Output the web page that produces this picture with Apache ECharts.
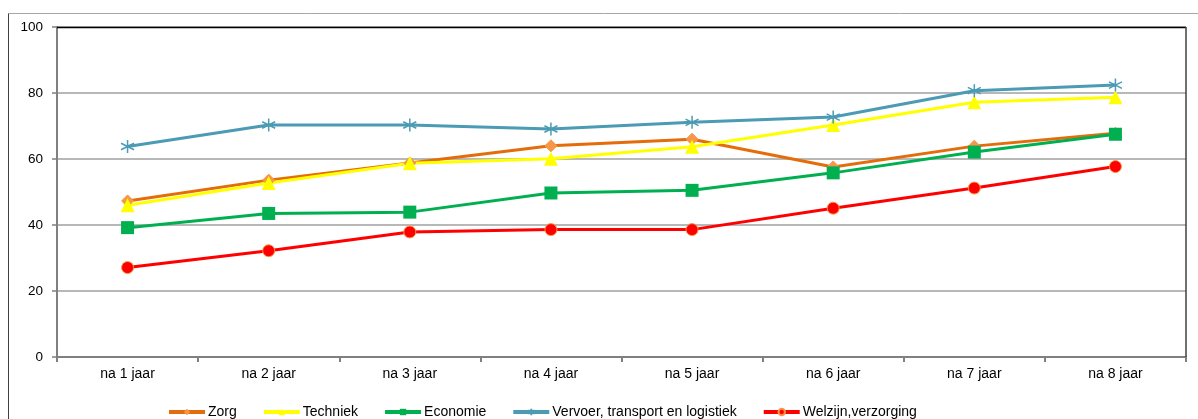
<!DOCTYPE html>
<html>
<head>
<meta charset="utf-8">
<script src="https://cdn.jsdelivr.net/npm/echarts@6/dist/echarts.min.js"></script>
<style>
html,body{margin:0;padding:0;background:#fff;}
#chart{width:1198px;height:419px;}
</style>
</head>
<body>
<div id="chart"></div>
<script>
const categories = ['na 1 jaar','na 2 jaar','na 3 jaar','na 4 jaar','na 5 jaar','na 6 jaar','na 7 jaar','na 8 jaar'];
const zorg      = [47.3, 53.6, 58.8, 64.0, 66.0, 57.6, 63.9, 67.8];
const techniek  = [46.0, 52.7, 58.7, 60.1, 63.7, 70.3, 77.2, 78.7];
const economie  = [39.2, 43.5, 43.9, 49.7, 50.5, 55.8, 62.1, 67.5];
const vervoer   = [63.8, 70.3, 70.3, 69.1, 71.1, 72.7, 80.7, 82.4];
const welzijn   = [27.1, 32.2, 37.9, 38.6, 38.6, 45.1, 51.2, 57.7];
const seriesNames = ['Zorg','Techniek','Economie','Vervoer, transport en logistiek','Welzijn,verzorging'];

const asterisk = 'path://M5,0 L5,10 M0.8,2.5 L9.2,7.5 M9.2,2.5 L0.8,7.5';

const chart = echarts.init(document.getElementById('chart'), null, {renderer:'canvas'});
const font = 'Liberation Sans, Arial, sans-serif';
function mk(name, data, color, symbol, size, itemStyle){
  return {
    name, type:'line', data, symbol, symbolSize:size, showSymbol:true,
    lineStyle:{color, width:3},
    itemStyle: itemStyle,
    emphasis:{disabled:true},
    animation:false
  };
}
chart.setOption({
  animation:false,
  grid:{left:57, right:12, top:27, bottom:62, show:false},
  graphic:[
    {type:'line', shape:{x1:8.5,y1:13.5,x2:1198,y2:13.5}, style:{stroke:'#a6a6a6', lineWidth:1}},
    {type:'line', shape:{x1:8.5,y1:13.5,x2:8.5,y2:419}, style:{stroke:'#404040', lineWidth:1}},
    {type:'line', shape:{x1:57,y1:27.5,x2:1186,y2:27.5}, style:{stroke:'#000', lineWidth:1.5}, z:10},
    {type:'line', shape:{x1:1186,y1:27,x2:1186,y2:357}, style:{stroke:'#404040', lineWidth:1.5}, z:10}
  ],
  xAxis:{
    type:'category', data:categories, boundaryGap:true,
    axisLine:{lineStyle:{color:'#808080', width:2}},
    axisTick:{show:true, length:5, lineStyle:{color:'#808080', width:2}},
    axisLabel:{color:'#000', fontSize:14, fontFamily:font, margin:10},
    splitLine:{show:false}
  },
  yAxis:{
    type:'value', min:0, max:100, interval:20,
    axisLine:{show:true, lineStyle:{color:'#808080', width:2}},
    axisTick:{show:true, length:5, lineStyle:{color:'#808080', width:1.5}},
    axisLabel:{color:'#000', fontSize:13.5, fontFamily:font, margin:14},
    splitLine:{show:true, lineStyle:{color:'#a0a0a0', width:1.5}}
  },
  legend:{
    data:seriesNames, left:162, top:400, itemWidth:36, itemHeight:8, itemGap:25,
    lineStyle:{width:4},
    textStyle:{color:'#000', fontSize:14, fontFamily:font, padding:[0,0,0,-2]}
  },
  series:[
    mk('Zorg', zorg, '#E46C0A', 'diamond', 12, {color:'#F79646', borderColor:'#F79646'}),
    mk('Techniek', techniek, '#FFFF00', 'triangle', 14, {color:'#FFFF00'}),
    mk('Economie', economie, '#00B050', 'rect', 13, {color:'#00B050'}),
    mk('Vervoer, transport en logistiek', vervoer, '#4A9BB3', asterisk, 13, {color:'#4A9BB3', borderColor:'#4A9BB3', borderWidth:1.5}),
    mk('Welzijn,verzorging', welzijn, '#FF0000', 'circle', 12, {color:'#FF0000', borderColor:'#F79646', borderWidth:1})
  ]
});
</script>
</body>
</html>
